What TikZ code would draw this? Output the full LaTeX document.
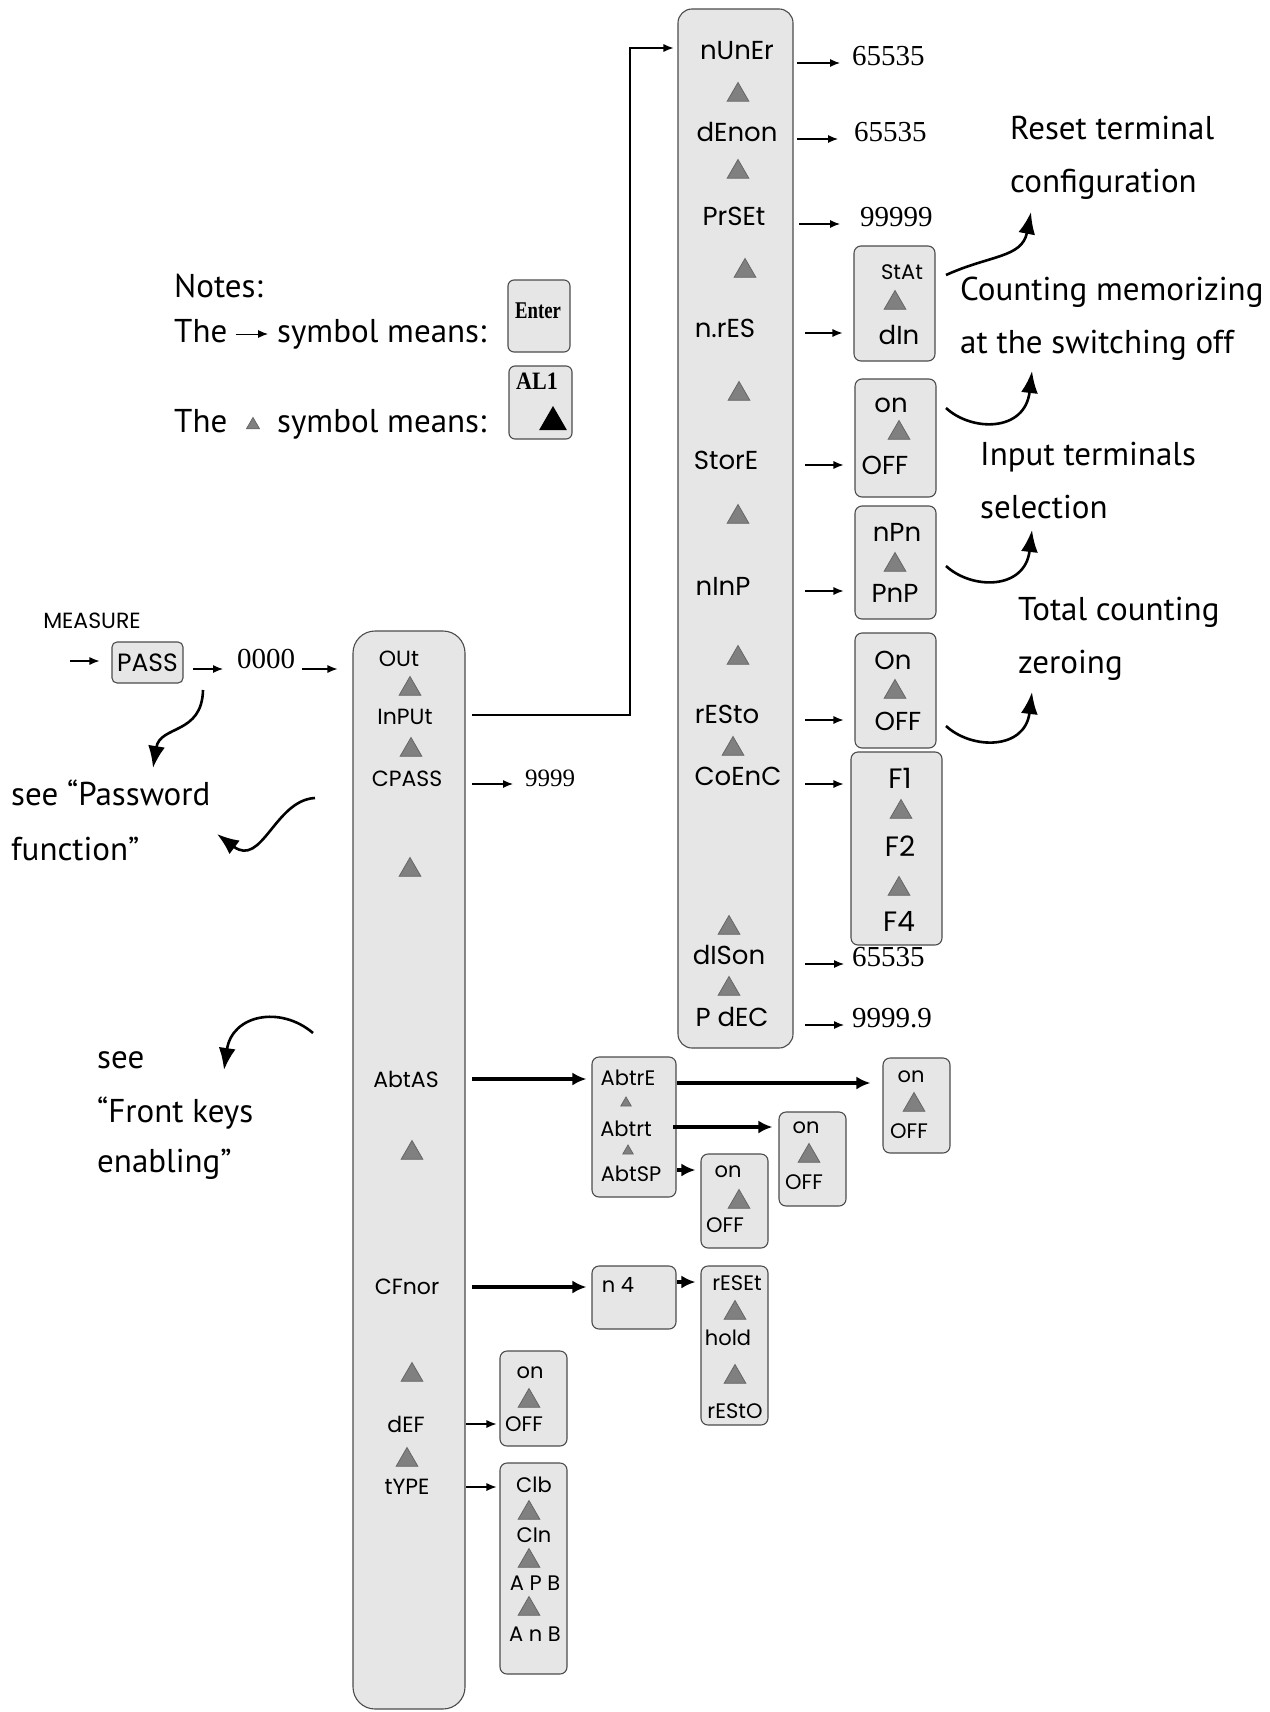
\documentclass[tikz,border=0pt]{standalone}
\usepackage{fontspec}
\setmainfont{Liberation Serif}
\newfontfamily\geo{Poppins}
\newfontfamily\hand{PT Sans}
\usetikzlibrary{arrows.meta,shapes.geometric,calc}
\definecolor{boxfill}{HTML}{E6E6E6}
\definecolor{trifill}{HTML}{808080}
\tikzset{
 box/.style={draw=black!70, fill=boxfill, rounded corners=7pt, line width=1.1pt, inner sep=0pt},
 tri/.style={regular polygon, regular polygon sides=3, fill=trifill, draw=black!60, line width=0.8pt, minimum size=25pt, inner sep=0pt},
 stri/.style={tri, minimum size=12pt},
 ia/.style={font=\geo\fontsize{22}{24}\selectfont, inner sep=0pt},
 ib/.style={font=\geo\fontsize{26}{28}\selectfont, inner sep=0pt},
 ic/.style={font=\geo\fontsize{21}{23}\selectfont, inner sep=0pt},
 val/.style={font=\fontsize{29}{30}\selectfont, anchor=mid west, inner sep=0pt},
 arr/.style={-{Latex[length=10pt,width=8pt]}, line width=1.1pt},
 thk/.style={-{Latex[length=14pt,width=13pt]}, line width=3.2pt},
 note/.style={font=\hand\fontsize{33}{36}\selectfont, anchor=base west, inner sep=0pt},
 curv/.style={-{Latex[length=22pt,width=17pt]}, line width=2.6pt},
}
\begin{document}
\begin{tikzpicture}[x=1pt,y=-1pt]
\useasboundingbox[fill=white] (0,0) rectangle (1269,1712);

% ---------- columns ----------
\node[box, rounded corners=22pt, minimum width=112pt, minimum height=1078pt] (col1) at (409,1170) {};
\node[box, rounded corners=14pt, minimum width=115pt, minimum height=1039pt] (col2) at (735.5,528.5) {};

% ---------- column 1 items ----------
\node[ia] (i_out) at (399,659) {OUt};
\node[tri] (t_c1a) at (410,689) {};
\node[ia] (i_inp) at (405,717) {InPUt};
\node[tri] (t_c1b) at (411,750) {};
\node[ia] (i_cpass) at (407,779) {CPASS};
\node[tri] (t_c1c) at (410,870) {};
\node[ia] (i_abtas) at (406,1079) {AbtAS};
\node[tri] (t_c1d) at (412,1153) {};
\node[ia] (i_cfnor) at (407,1287) {CFnor};
\node[tri] (t_c1e) at (412,1375) {};
\node[ia] (i_def) at (406,1424) {dEF};
\node[tri] (t_c1f) at (407,1460) {};
\node[ia] (i_type) at (407,1487) {tYPE};

% ---------- column 2 items ----------
\node[ib] (i_nuner) at (737,51) {nUnEr};
\node[tri] (t_c2a) at (738,95) {};
\node[ib] (i_denon) at (737,132) {dEnon};
\node[tri] (t_c2b) at (738,172) {};
\node[ib] (i_prset) at (734,216) {PrSEt};
\node[tri] (t_c2c) at (745,271) {};
\node[ib] (i_nres) at (725,328) {n.rES};
\node[tri] (t_c2d) at (739,394) {};
\node[ib] (i_store) at (726,460) {StorE};
\node[tri] (t_c2e) at (738,517) {};
\node[ib] (i_ninp) at (723,586) {nInP};
\node[tri] (t_c2f) at (738,658) {};
\node[ib] (i_resto) at (727,714) {rESto};
\node[tri] (t_c2g) at (733,749) {};
\node[ib] (i_coenc) at (738,776) {CoEnC};
\node[tri] (t_c2h) at (729,928) {};
\node[ib] (i_dison) at (729,955) {dISon};
\node[tri] (t_c2i) at (729,989) {};
\node[ib] (i_pdec) at (732,1017) {P dEC};

% ---------- values ----------
\node[val] (v_nuner) at (852,63) {65535};
\node[val] (v_denon) at (854,139) {65535};
\node[val] (v_prset) at (860,224) {99999};
\node[val] (v_dison) at (852,964) {65535};
\node[val] (v_pdec) at (852,1025) {9999.9};
\node[val, font=\fontsize{25}{26}\selectfont] (v_cpass) at (525,784) {9999};
\node[val] (v_0000) at (237,666) {0000};

\coordinate (a_nuner) at (797,63);
\coordinate (a_denon) at (797,139);
\coordinate (a_prset) at (799,224);
\coordinate (a_dison) at (805,964);
\coordinate (a_pdec) at (805,1025);
\coordinate (a_cpass) at (472,784);
\draw[arr, shorten >=12pt] (a_nuner) -- (v_nuner.mid west);
\draw[arr, shorten >=16pt] (a_denon) -- (v_denon.mid west);
\draw[arr, shorten >=20pt] (a_prset) -- (v_prset.mid west);
\draw[arr, shorten >=8pt] (a_dison) -- (v_dison.mid west);
\draw[arr, shorten >=8pt] (a_pdec) -- (v_pdec.mid west);
\draw[arr, shorten >=12pt] (a_cpass) -- (v_cpass.mid west);

% ---------- MEASURE / PASS ----------
\node[font=\geo\fontsize{22}{24}\selectfont, inner sep=0pt] (measure) at (92,621) {MEASURE};
\node[box, rounded corners=5pt, minimum width=71pt, minimum height=41pt, font=\geo\fontsize{25}{27}\selectfont] (pass) at (147.5,662.5) {PASS};
\coordinate (a_m) at (70,661);
\draw[arr, shorten >=12pt] (a_m) -- (a_m -| pass.west);
\coordinate (a_p) at (193,669);
\draw[arr, shorten >=14pt] (a_p) -- (a_p -| v_0000.west);
\coordinate (a_0) at (302,669);
\draw[arr, shorten >=15pt] (a_0) -- (a_0 -| col1.west);

% InPUt -> nUnEr
\coordinate (a_inp) at (472,715);
\coordinate (k_top) at (630,48);
\draw[arr, shorten >=4pt] (a_inp) -| (k_top) -- (k_top -| col2.west);

% ---------- right small boxes ----------
\node[box, minimum width=81pt, minimum height=115pt] (b_stat) at (894.5,303.5) {};
\node[ic] (s_stat) at (902,272) {StAt};
\node[tri] (t_stat) at (895,303) {};
\node[ib] (s_din) at (899,335) {dIn};

\node[box, minimum width=81pt, minimum height=118pt] (b_store) at (895.5,438) {};
\node[ib] (s_on1) at (891,405) {on};
\node[tri] (t_store) at (899,433) {};
\node[ib] (s_off1) at (885,465) {OFF};

\node[box, minimum width=81pt, minimum height=113pt] (b_inp) at (895.5,562.5) {};
\node[ib] (s_npn) at (897,532) {nPn};
\node[tri] (t_inp) at (895,565) {};
\node[ib] (s_pnp) at (895,593) {PnP};

\node[box, minimum width=81pt, minimum height=115pt] (b_resto) at (895.5,690.5) {};
\node[ib] (s_on2) at (893,660) {On};
\node[tri] (t_resto) at (895,692) {};
\node[ib] (s_off2) at (898,721) {OFF};

\node[box, minimum width=91pt, minimum height=193pt] (b_coenc) at (896.5,848.5) {};
\node[ib, font=\geo\fontsize{28}{30}\selectfont] (s_f1) at (900,778) {F1};
\node[tri] (t_f1) at (901,812) {};
\node[ib, font=\geo\fontsize{28}{30}\selectfont] (s_f2) at (900,846) {F2};
\node[tri] (t_f2) at (899,889) {};
\node[ib, font=\geo\fontsize{28}{30}\selectfont] (s_f4) at (899,921) {F4};

\coordinate (a_nres) at (805,333);
\coordinate (a_store) at (805,465);
\coordinate (a_ninp) at (805,591);
\coordinate (a_resto) at (805,720);
\coordinate (a_coenc) at (805,784);
\draw[arr, shorten >=11pt] (a_nres) -- (a_nres -| b_stat.west);
\draw[arr, shorten >=11pt] (a_store) -- (a_store -| b_store.west);
\draw[arr, shorten >=11pt] (a_ninp) -- (a_ninp -| b_inp.west);
\draw[arr, shorten >=11pt] (a_resto) -- (a_resto -| b_resto.west);
\draw[arr, shorten >=7pt] (a_coenc) -- (a_coenc -| b_coenc.west);

% ---------- bottom boxes ----------
\node[box, minimum width=84pt, minimum height=140pt] (b_abt) at (634,1127) {};
\node[ic] (s_abtre) at (628,1078) {AbtrE};
\node[stri] (t_abt1) at (626,1103) {};
\node[ic] (s_abtrt) at (626,1129) {Abtrt};
\node[stri] (t_abt2) at (628,1151) {};
\node[ic] (s_abtsp) at (631,1174) {AbtSP};

\node[box, minimum width=67pt, minimum height=95pt] (b_on1) at (916.5,1105.5) {};
\node[ic] (s_on3) at (911,1077) {on};
\node[tri] (t_on1) at (914,1105) {};
\node[ic] (s_off3) at (909,1131) {OFF};

\node[box, minimum width=67pt, minimum height=94pt] (b_on2) at (812.5,1159) {};
\node[ic] (s_on4) at (806,1128) {on};
\node[tri] (t_on2) at (809,1156) {};
\node[ic] (s_off4) at (804,1182) {OFF};

\node[box, minimum width=67pt, minimum height=94pt] (b_on3) at (734.5,1201) {};
\node[ic] (s_on5) at (728,1172) {on};
\node[tri] (t_on3) at (739,1202) {};
\node[ic] (s_off5) at (725,1225) {OFF};

\node[box, minimum width=84pt, minimum height=63pt] (b_n4) at (634,1297.5) {};
\node[ic] (s_n4) at (618,1285) {n 4};

\node[box, minimum width=67pt, minimum height=159pt] (b_reset) at (734.5,1345.5) {};
\node[ic] (s_reset) at (737,1283) {rESEt};
\node[tri] (t_rs1) at (735,1313) {};
\node[ic] (s_hold) at (728,1338) {hold};
\node[tri] (t_rs2) at (735,1377) {};
\node[ic] (s_resto2) at (735,1411) {rEStO};

\node[box, minimum width=67pt, minimum height=95pt] (b_def) at (533.5,1398.5) {};
\node[ic] (s_on6) at (530,1373) {on};
\node[tri] (t_def) at (529,1401) {};
\node[ic] (s_off6) at (524,1424) {OFF};

\node[box, minimum width=67pt, minimum height=211pt] (b_type) at (533.5,1568.5) {};
\node[ic] (s_clb) at (534,1485) {Clb};
\node[tri] (t_ty1) at (529,1513) {};
\node[ic] (s_cin) at (534,1535) {CIn};
\node[tri] (t_ty2) at (529,1561) {};
\node[ic] (s_apb) at (535,1583) {A P B};
\node[tri] (t_ty3) at (529,1609) {};
\node[ic] (s_anb) at (535,1634) {A n B};

\coordinate (a_abtas) at (472,1079);
\coordinate (a_abtre) at (677,1083);
\coordinate (a_abtrt) at (673,1127);
\coordinate (a_abtsp) at (677,1170);
\coordinate (a_cfnor) at (472,1287);
\coordinate (a_n4) at (677,1282);
\coordinate (a_def) at (466,1424);
\coordinate (a_type) at (466,1487);
\draw[thk, shorten >=5pt] (a_abtas) -- (a_abtas -| b_abt.west);
\draw[thk, shorten >=12pt] (a_abtre) -- (a_abtre -| b_on1.west);
\draw[thk, shorten >=6pt] (a_abtrt) -- (a_abtrt -| b_on2.west);
\draw[thk, shorten >=5pt] (a_abtsp) -- (a_abtsp -| b_on3.west);
\draw[thk, shorten >=5pt] (a_cfnor) -- (a_cfnor -| b_n4.west);
\draw[thk, shorten >=5pt] (a_n4) -- (a_n4 -| b_reset.west);
\draw[arr, shorten >=3pt] (a_def) -- (a_def -| b_def.west);
\draw[arr, shorten >=3pt] (a_type) -- (a_type -| b_type.west);

% ---------- notes ----------
\node[note] (n_notes) at (174,297) {Notes:};
\node[note] (n_the1) at (174,342) {The};
\node[note] (n_sym1) at (277,342) {symbol means:};
\draw[arr, line width=1pt, shorten <=8pt, shorten >=9pt] ([yshift=8pt]n_the1.base east) -- ([yshift=8pt]n_sym1.base west);
\node[note] (n_the2) at (174,432) {The};
\node[note] (n_sym2) at (277,432) {symbol means:};
\node[stri, minimum size=15pt] (n_tri) at (253,425) {};

\node[box, rounded corners=6pt, minimum width=62pt, minimum height=72pt] (k_enter) at (539,316) {};
\node[font=\bfseries\fontsize{24}{26}\selectfont, inner sep=0pt] (k_entertxt) at (538,311) {\scalebox{0.78}[1]{Enter}};
\node[box, rounded corners=6pt, minimum width=63pt, minimum height=73pt] (k_al1) at (540.5,402.5) {};
\node[font=\bfseries\fontsize{25}{27}\selectfont, inner sep=0pt] (k_al1txt) at (537,381) {\scalebox{0.88}[1]{AL1}};
\node[regular polygon, regular polygon sides=3, fill=black, minimum size=32pt, inner sep=0pt] (k_al1tri) at (553,422) {};

% ---------- annotations ----------
\node[note] (n_reset1) at (1010,140) {Reset terminal};
\node[note] (n_reset2) at (1010,193) {configuration};
\node[note] (n_count1) at (960,300) {Counting memorizing};
\node[note] (n_count2) at (960,353) {at the switching off};
\node[note] (n_input1) at (980,465) {Input terminals};
\node[note] (n_input2) at (980,518) {selection};
\node[note] (n_total1) at (1018,620) {Total counting};
\node[note] (n_total2) at (1018,673) {zeroing};
\node[note] (n_pw1) at (11,805) {see “Password};
\node[note] (n_pw2) at (11,860) {function”};
\node[note] (n_fk1) at (97,1068) {see};
\node[note] (n_fk2) at (97,1122) {“Front keys};
\node[note] (n_fk3) at (97,1172) {enabling”};

\coordinate (c1s) at (946,275); \coordinate (c1e) at (1031,212);
\draw[curv] (c1s) .. controls (990,255) and (1022,258) .. (c1e);
\coordinate (c2s) at (946,408); \coordinate (c2e) at (1032,371);
\draw[curv] (c2s) .. controls (972,432) and (1025,432) .. (c2e);
\coordinate (c3s) at (946,566); \coordinate (c3e) at (1032,530);
\draw[curv] (c3s) .. controls (972,590) and (1025,590) .. (c3e);
\coordinate (c4s) at (946,726); \coordinate (c4e) at (1032,692);
\draw[curv] (c4s) .. controls (972,750) and (1025,750) .. (c4e);
\coordinate (cas) at (203,690); \coordinate (cae) at (153,768);
\draw[curv] (cas) .. controls (202,735) and (160,725) .. (cae);
\coordinate (cbs) at (315,798); \coordinate (cbe) at (217,834);
\draw[curv] (cbs) .. controls (275,800) and (262,868) .. (cbe);
\coordinate (ccs) at (313,1033); \coordinate (cce) at (224,1070);
\draw[curv] (ccs) .. controls (280,1005) and (232,1015) .. (cce);
\end{tikzpicture}
\end{document}
